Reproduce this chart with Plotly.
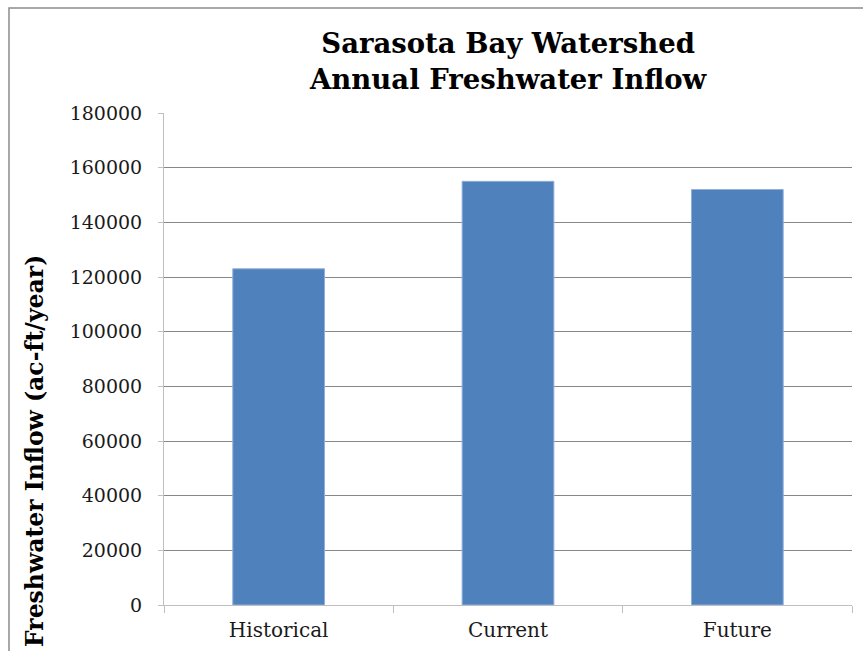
import plotly.graph_objects as go

categories = ["Historical", "Current", "Future"]
inflow = [123000, 155000, 152000]
y_ticks = [0, 20000, 40000, 60000, 80000, 100000, 120000, 140000, 160000, 180000]
title_text = "Sarasota Bay Watershed<br>Annual Freshwater Inflow"
y_title = "Freshwater Inflow (ac-ft/year)"

serif = "'DejaVu Serif', serif"

fig = go.Figure(
    go.Bar(
        x=categories,
        y=inflow,
        marker=dict(color="#4F81BD", line=dict(color="#8FB0DA", width=1)),
        width=0.4,
    )
)

# Plot area spans 164..852 px horizontally and 113..605 px vertically.
PX_L, PX_R, PX_T, PX_B = 164, 852, 113, 605


def px_x(px):
    return (px - PX_L) / (PX_R - PX_L)


def px_y(py):
    return (PX_B - py) / (PX_B - PX_T)


annotations = [
    dict(
        text=f"<b>{title_text}</b>",
        xref="paper",
        yref="paper",
        x=0.5,
        y=px_y(61),
        xanchor="center",
        yanchor="middle",
        showarrow=False,
        font=dict(family=serif, size=27.5, color="black"),
    ),
    dict(
        text=f"<b>{y_title}</b>",
        textangle=-90,
        xref="paper",
        yref="paper",
        x=px_x(35),
        y=px_y(451),
        xanchor="center",
        yanchor="middle",
        showarrow=False,
        font=dict(family=serif, size=23.5, color="black"),
    ),
]

fig.update_layout(
    width=863,
    height=651,
    margin=dict(l=PX_L, r=863 - PX_R, t=PX_T, b=651 - PX_B),
    paper_bgcolor="white",
    plot_bgcolor="white",
    showlegend=False,
    xaxis=dict(
        showline=True,
        linecolor="#BFBFBF",
        linewidth=1,
        ticks="outside",
        tickson="boundaries",
        ticklen=7,
        tickcolor="#BFBFBF",
        tickfont=dict(family=serif, size=20, color="#1a1a1a"),
        ticklabelstandoff=7,
        showgrid=False,
        automargin=False,
    ),
    yaxis=dict(
        range=[0, 180000],
        tickvals=y_ticks,
        showline=True,
        linecolor="#BFBFBF",
        linewidth=1,
        ticks="outside",
        ticklen=5,
        tickcolor="#BFBFBF",
        showgrid=True,
        gridcolor="#878787",
        gridwidth=1,
        zeroline=False,
        tickformat="d",
        tickfont=dict(family=serif, size=19, color="#1a1a1a"),
        ticklabelstandoff=12,
        automargin=False,
    ),
    annotations=annotations,
    shapes=[
        dict(
            type="rect",
            xref="paper",
            yref="paper",
            x0=px_x(9),
            x1=px_x(870),
            y0=px_y(670),
            y1=px_y(8),
            line=dict(color="#8C8C8C", width=1.5),
            fillcolor="rgba(0,0,0,0)",
            layer="below",
        )
    ],
)

fig.write_html("out.html")
